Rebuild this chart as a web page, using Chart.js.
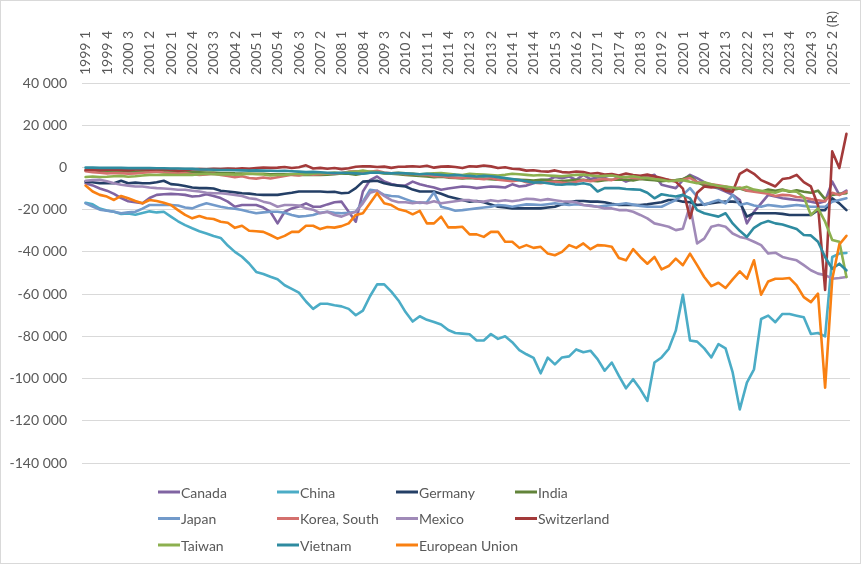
<!DOCTYPE html>
<html><head><meta charset="utf-8">
<script src="https://cdn.jsdelivr.net/npm/chart.js@4.4.1/dist/chart.umd.min.js"></script>
<style>html,body{margin:0;padding:0;background:#fff}#wrap{width:861px;height:564px}</style>
</head><body><div id="wrap"><canvas id="c" width="861" height="564"></canvas></div>
<script>
// Categories: quarters 1999 Q1 .. 2025 Q4
const years = [];
for (let y = 1999; y <= 2025; y++) years.push(y);
const quarters = [];
years.forEach(y => [1,2,3,4].forEach(q => quarters.push(y + ' ' + q + (y === 2025 && q >= 2 ? ' (R)' : ''))));

const yTicks = [40000, 20000, 0, -20000, -40000, -60000, -80000, -100000, -120000, -140000];

const canada = [-7500,-8500,-10000,-11000,-12500,-14500,-16000,-16500,-17000,-14500,
-13000,-12700,-12500,-12700,-13000,-13800,-13500,-12700,-13500,-14500,
-16200,-18600,-17800,-17800,-17800,-19000,-21000,-26500,-21000,-19400,
-18500,-17000,-18600,-18600,-17500,-16500,-16200,-21000,-25700,-11400,
-6000,-4300,-6700,-7800,-8600,-8500,-6700,-8000,-8800,-9500,
-10600,-10000,-9500,-9000,-9300,-9800,-9400,-9000,-9200,-9500,
-8000,-9000,-8600,-7500,-6000,-5900,-4500,-5100,-4300,-5900,
-3500,-5500,-4800,-4500,-3500,-5000,-6700,-5500,-5100,-4500,
-3500,-8200,-9000,-9800,-6000,-3500,-5100,-7000,-9000,-10000,
-11400,-13000,-15400,-26500,-21000,-17000,-13000,-13800,-14600,-15000,
-15400,-15800,-16200,-17000,-16000,-6700,-13000,-11000];

const china = [-16700,-17500,-19500,-20400,-21000,-22000,-21800,-22400,-21600,-20800,
-21300,-21000,-23300,-25500,-27300,-28800,-30200,-31300,-32500,-33400,
-37000,-40000,-42300,-45500,-49500,-50500,-51800,-53000,-55800,-57500,
-59300,-63500,-67000,-64600,-64600,-65300,-65800,-67000,-70000,-67800,
-61000,-55400,-55400,-58800,-63000,-68500,-73000,-70500,-72200,-73200,
-74400,-77000,-78400,-78700,-79000,-82000,-82000,-78900,-81200,-80000,
-82800,-86500,-88500,-90200,-97500,-90100,-93300,-90000,-89500,-86200,
-87500,-86800,-90800,-96300,-92400,-98700,-104600,-100300,-105000,-110600,
-92400,-90000,-86000,-77300,-60300,-82000,-82500,-85700,-90000,-83700,
-85700,-97100,-114600,-101900,-95600,-71800,-70200,-73300,-69400,-69400,
-70200,-71000,-78900,-78400,-80000,-42400,-40800,-40500];

const germany = [-6700,-7000,-7500,-7500,-7500,-6300,-7500,-7200,-7500,-7500,
-7000,-6300,-7900,-8200,-8800,-9500,-9800,-9800,-10000,-11000,
-11400,-11800,-12200,-12400,-12800,-13000,-13000,-13000,-12500,-12000,
-11400,-11400,-11400,-11400,-11600,-11500,-12200,-12000,-9800,-6700,
-6500,-6300,-7500,-8200,-8600,-9000,-10500,-11400,-11400,-11400,
-12500,-13800,-14600,-15400,-16200,-15900,-16500,-17500,-18600,-19000,
-19400,-19400,-19400,-19400,-19400,-19000,-18600,-17500,-16500,-15900,
-15900,-16200,-16200,-16500,-17200,-17800,-17800,-17800,-17800,-17500,
-17000,-16500,-15400,-15400,-16200,-16500,-17800,-17500,-17000,-16500,
-16200,-16200,-16500,-23300,-21700,-21700,-21700,-21700,-22000,-22500,
-22500,-22500,-22500,-20200,-20200,-14600,-17000,-20200];

const india = [-1500,-1500,-1600,-1700,-1800,-1800,-1900,-1900,-1800,-1700,
-1600,-1700,-1800,-2000,-2100,-2200,-2300,-2400,-2400,-2600,
-2600,-2800,-2900,-3000,-3000,-3000,-3200,-3300,-3200,-3400,
-3500,-3400,-3600,-3500,-3400,-3200,-2800,-3000,-3400,-2800,
-2500,-2400,-2800,-3000,-3200,-3600,-3800,-4000,-4300,-4600,
-4400,-4800,-5000,-5200,-5000,-5200,-5300,-5600,-5800,-5500,
-5600,-5800,-6000,-6200,-5800,-6000,-6500,-6400,-6200,-6000,
-5800,-6300,-6500,-6000,-5800,-5700,-5800,-6200,-5500,-5800,
-6000,-6500,-6200,-6000,-5500,-4000,-7000,-8500,-9000,-9500,
-10000,-10500,-10000,-11000,-11000,-11500,-10500,-11000,-10500,-11500,
-10800,-11500,-12000,-11000,-15000,-13000,-12500,-12200];

const japan = [-17000,-18500,-20000,-20500,-21000,-21700,-21300,-21000,-19500,-17800,
-17800,-17800,-17800,-18000,-19000,-19400,-18000,-17000,-17800,-18600,
-19200,-19600,-20200,-21000,-21700,-21300,-21000,-21000,-21500,-22500,
-23300,-23000,-22500,-21500,-21000,-21500,-21700,-21500,-21000,-16200,
-10600,-11100,-13000,-13500,-13800,-15000,-16200,-16800,-16500,-11800,
-18600,-19400,-20500,-20200,-19800,-19400,-19000,-18600,-17800,-18000,
-18600,-18000,-17500,-17600,-17800,-17400,-17000,-17400,-17800,-17400,
-17800,-18000,-18600,-18200,-17800,-17400,-17000,-17600,-18200,-18600,
-18600,-18600,-17000,-15400,-13000,-9800,-13800,-17800,-16500,-15400,
-17000,-13000,-17800,-17000,-18000,-18600,-17800,-18200,-18600,-18200,
-17800,-18200,-18600,-18600,-18600,-16200,-15400,-14600];

const korea = [-1800,-2200,-2500,-2800,-2600,-2700,-3000,-2800,-2500,-2300,
-2000,-2400,-2600,-2900,-2700,-3200,-3500,-3300,-3000,-3600,
-4000,-4600,-4200,-5000,-5300,-4800,-5200,-4600,-4000,-3500,
-3800,-3000,-3400,-3200,-2800,-3000,-2600,-2000,-1800,-2200,
-2000,-1600,-2400,-2800,-2600,-3200,-3000,-3600,-3500,-4200,
-4000,-4600,-4800,-5000,-4600,-5200,-5600,-5000,-5800,-6200,
-6500,-6000,-7000,-7200,-7500,-7000,-6800,-7200,-7500,-6800,
-6000,-6500,-5800,-5500,-6000,-4800,-4500,-5000,-5200,-4800,
-5000,-5500,-5800,-6500,-5800,-5000,-7000,-7500,-8000,-8500,
-9000,-10000,-9500,-11000,-11500,-12000,-12500,-13500,-13000,-13200,
-14000,-14200,-15000,-15500,-16000,-12000,-13000,-11500];

const mexico = [-6300,-6000,-5900,-6500,-7500,-8200,-8600,-9000,-9000,-9500,
-9800,-10000,-10200,-10600,-10600,-11000,-11400,-12000,-12200,-12200,
-12600,-13000,-13500,-14600,-15000,-16200,-17000,-18600,-17800,-17800,
-18000,-19400,-20000,-21700,-21000,-22500,-23300,-22000,-21000,-17000,
-12000,-11000,-13500,-15500,-16500,-16500,-17000,-16500,-17000,-16000,
-17000,-16500,-16000,-15500,-15500,-16000,-16200,-15500,-16000,-15500,
-16000,-15500,-14800,-15000,-15500,-15000,-15500,-16000,-16200,-16500,
-17800,-18200,-18600,-19400,-19400,-20200,-20200,-21000,-22500,-24100,
-26500,-27300,-28100,-29700,-29000,-18000,-36000,-33700,-28100,-27300,
-28100,-31300,-32900,-33700,-35200,-36800,-40800,-40400,-42400,-43200,
-44000,-46300,-48700,-50300,-51000,-52700,-52400,-51900];

const switzerland = [-1200,-1000,-1300,-1100,-1000,-1200,-1400,-1000,-900,-1100,
-1000,-800,-1200,-1500,-1300,-1000,-800,-900,-600,-800,
-500,-700,-400,-600,-300,0,-200,-100,200,-300,
100,1000,-500,-200,-600,-300,-800,-400,300,600,
500,200,400,-200,300,400,600,300,800,-100,
400,500,200,-300,600,400,900,500,-300,100,
-600,-800,-1500,-1300,-1800,-2000,-1400,-2200,-2400,-1900,
-2200,-3000,-2600,-3400,-3100,-3800,-2900,-3600,-4000,-3400,
-4200,-5000,-6000,-6700,-10000,-24000,-12000,-9000,-9500,-9000,
-11000,-11500,-3000,-1000,-3000,-6000,-7500,-9000,-5500,-5000,
-3500,-7000,-9000,-18000,-58000,7600,-300,15900];

const taiwan = [-4500,-4300,-4500,-4400,-4200,-4000,-4400,-4200,-3800,-3500,
-3600,-3400,-3500,-3600,-3400,-3500,-3200,-3000,-3200,-3300,
-3200,-3400,-3300,-3000,-3200,-3300,-3800,-3600,-3500,-3200,
-3000,-3300,-3000,-2600,-2800,-2400,-2800,-2200,-2000,-1500,
-2000,-2200,-2600,-2800,-2500,-2800,-3000,-3200,-3000,-2800,
-2600,-3000,-3400,-3600,-3000,-3200,-3400,-3600,-3800,-3500,
-3000,-3200,-3500,-3800,-3600,-3800,-4000,-4200,-3800,-3500,
-3400,-3800,-4200,-4000,-3800,-4400,-4600,-4200,-4800,-5000,
-5500,-5800,-6500,-6200,-6000,-6800,-7500,-7000,-8000,-8800,
-9000,-9500,-10000,-9200,-10500,-11000,-11500,-12000,-10800,-11200,
-11500,-14000,-22500,-19400,-25700,-34400,-35200,-51900];

const vietnam = [-100,-100,-200,-200,-200,-200,-300,-300,-300,-300,
-400,-400,-500,-500,-600,-700,-900,-1000,-1100,-1200,
-1200,-1300,-1400,-1500,-1400,-1500,-1600,-1700,-1600,-1800,
-2000,-2200,-2100,-2300,-2500,-2700,-2500,-2600,-2800,-3000,
-2500,-2400,-2600,-2800,-2600,-2800,-3000,-3200,-3000,-3300,
-3500,-3800,-3500,-3800,-4000,-4300,-4000,-4200,-4600,-5000,
-5500,-6000,-6500,-7200,-7000,-7500,-8000,-8200,-7800,-8000,
-7500,-8200,-11400,-9800,-9800,-9800,-10200,-10400,-10600,-12000,
-14600,-12700,-13300,-13800,-13000,-14600,-20200,-21700,-22500,-23300,
-21700,-26500,-30000,-32900,-28600,-26500,-25400,-26500,-27000,-28100,
-29200,-32000,-32200,-35200,-42400,-48000,-45600,-48700];

const eu = [-8600,-11400,-13000,-13800,-15400,-13500,-14600,-15900,-17000,-15400,
-15900,-16700,-17800,-20200,-22500,-24100,-23000,-24100,-24400,-25700,
-26200,-28600,-27600,-30000,-30200,-30500,-32000,-33700,-32400,-30500,
-30500,-27600,-27600,-29200,-28200,-28500,-27800,-26500,-22500,-21700,
-17000,-12200,-17000,-17800,-19800,-20600,-22200,-20600,-26500,-26500,
-23300,-28400,-28400,-28100,-31700,-31700,-32900,-30500,-30500,-35200,
-35200,-38100,-36800,-38100,-37600,-40800,-41600,-40000,-36800,-38100,
-36000,-38700,-36800,-37000,-37600,-42900,-44000,-38700,-42400,-45600,
-42400,-48300,-46700,-43200,-46300,-40800,-46300,-51900,-56200,-54600,
-57100,-53000,-49200,-52700,-44000,-60300,-54000,-52700,-52700,-52400,
-55900,-61400,-63800,-59800,-104300,-53000,-36500,-32400];

const seriesNames = ['Canada','China','Germany','India','Japan','Korea, South','Mexico','Switzerland','Taiwan','Vietnam','European Union'];
const seriesData = [canada, china, germany, india, japan, korea, mexico, switzerland, taiwan, vietnam, eu];
const seriesColors = ['#8064a2','#4bacc6','#243f66','#62843a','#729aca','#d4706d','#a08ab8','#a33a3a','#8cb04f','#2e8ba0','#f98012'];

const FONT = 'Lato, "Liberation Sans", sans-serif';
const TXT = '#595959';

const legendPlugin = {
  id: 'gridLegend',
  afterDraw(chart) {
    const ctx = chart.ctx;
    ctx.save();
    ctx.font = '14px ' + FONT;
    ctx.textBaseline = 'middle';
    ctx.textAlign = 'left';
    const colX = [158, 277, 396, 515];
    const rowY = [492, 518.5, 545];
    seriesNames.forEach((n, i) => {
      const x = colX[i % 4], y = rowY[Math.floor(i / 4)];
      ctx.strokeStyle = seriesColors[i];
      ctx.lineWidth = 3;
      ctx.beginPath(); ctx.moveTo(x, y); ctx.lineTo(x + 22, y); ctx.stroke();
      ctx.fillStyle = TXT;
      ctx.fillText(n, x + 23, y + 1);
    });
    ctx.restore();
  }
};
const framePlugin = {
  id: 'frame',
  beforeDraw(chart) {
    const ctx = chart.ctx;
    ctx.save();
    ctx.fillStyle = '#fff';
    ctx.fillRect(0, 0, chart.width, chart.height);
    ctx.restore();
  },
  afterDraw(chart) {
    const ctx = chart.ctx;
    ctx.save();
    ctx.strokeStyle = '#d9d9d9';
    ctx.lineWidth = 1;
    ctx.strokeRect(0.5, 0.5, chart.width - 1, chart.height - 1);
    ctx.restore();
  }
};

new Chart(document.getElementById('c'), {
  type: 'line',
  data: {
    labels: quarters,
    datasets: seriesNames.map((n, i) => ({
      label: n,
      data: seriesData[i],
      borderColor: seriesColors[i],
      backgroundColor: seriesColors[i],
      borderWidth: 2.6,
      pointRadius: 0,
      tension: 0,
      fill: false,
      borderJoinStyle: 'round',
      borderCapStyle: 'round',
      order: -i
    }))
  },
  options: {
    responsive: false,
    animation: false,
    layout: { padding: { left: 0, right: 11, top: 0, bottom: 101 } },
    plugins: { legend: { display: false }, tooltip: { enabled: false } },
    scales: {
      x: {
        type: 'category',
        position: 'top',
        offset: true,
        grid: { display: false, drawTicks: false },
        border: { display: false },
        ticks: {
          autoSkip: false, minRotation: 90, maxRotation: 90, padding: 8, labelOffset: 17,
          color: TXT, font: { family: FONT, size: 14 },
          callback: (v, i) => (i % 3 === 0 ? quarters[i] : '')
        },
        afterFit: s => { s.height = 83; }
      },
      y: {
        min: -140000, max: 40000,
        afterBuildTicks: s => { s.ticks = yTicks.map(v => ({ value: v })); },
        grid: { color: '#d9d9d9', lineWidth: 1, drawTicks: false },
        border: { display: false },
        ticks: {
          padding: 15, color: TXT, font: { family: FONT, size: 14 },
          callback: v => (v < 0 ? '-' : '') + Math.abs(v).toString().replace(/\B(?=(\d{3})+(?!\d))/g, ' ')
        },
        afterFit: s => { s.width = 82; }
      }
    }
  },
  plugins: [framePlugin, legendPlugin]
});
</script></body></html>
